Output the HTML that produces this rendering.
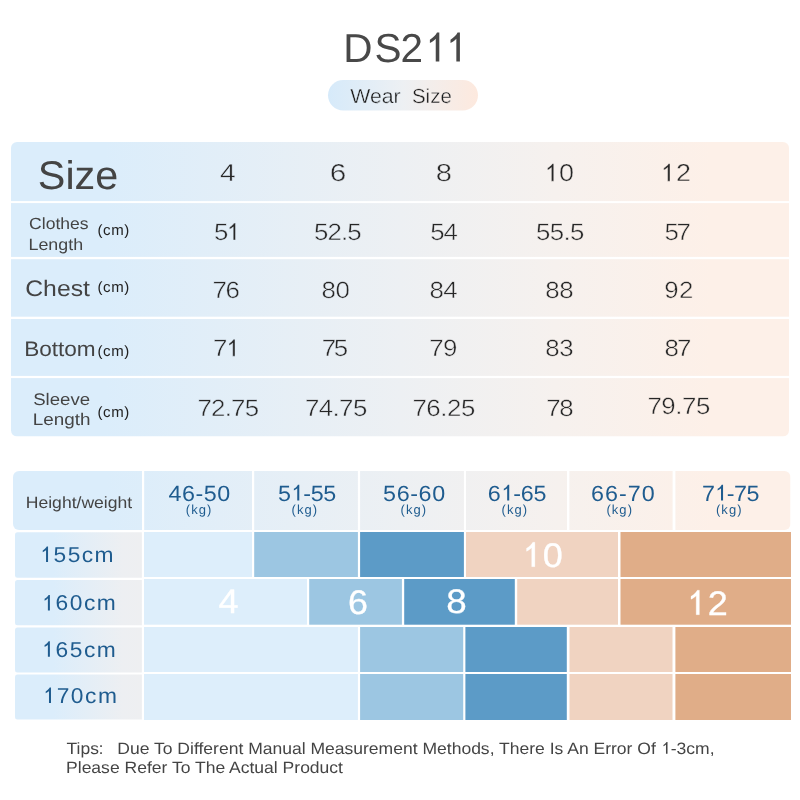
<!DOCTYPE html>
<html lang="en">
<head>
<meta charset="utf-8">
<title>DS211 Wear Size</title>
<style>
html,body{margin:0;padding:0;background:#fff;}
body{width:800px;height:800px;overflow:hidden;font-family:"Liberation Sans",sans-serif;}
svg{display:block;font-family:"Liberation Sans",sans-serif;text-rendering:geometricPrecision;}
#wrap{width:800px;height:800px;will-change:transform;opacity:0.999;}
svg text{white-space:pre;}
</style>
</head>
<body>
<div id="wrap">
<svg width="800" height="800" viewBox="0 0 800 800">
<defs>
<linearGradient id="gMain" x1="0" y1="0" x2="1" y2="0">
<stop offset="0" stop-color="#dbedfb"/><stop offset="0.12" stop-color="#dbedfb"/><stop offset="0.5" stop-color="#edf0f3"/><stop offset="0.7" stop-color="#f6f1ee"/><stop offset="0.9" stop-color="#fdf0e8"/><stop offset="1" stop-color="#fdf0e8"/>
</linearGradient>
<linearGradient id="gPill" x1="0" y1="0" x2="1" y2="0">
<stop offset="0" stop-color="#d6eafa"/><stop offset="0.5" stop-color="#edf0f3"/><stop offset="1" stop-color="#fde9de"/>
</linearGradient>
<linearGradient id="gLab" x1="0" y1="0" x2="1" y2="0">
<stop offset="0" stop-color="#dbedfb"/><stop offset="0.3" stop-color="#dbedfb"/><stop offset="0.85" stop-color="#edeff2"/><stop offset="1" stop-color="#eeeff1"/>
</linearGradient>
<clipPath id="cTop"><rect x="11" y="142" width="778" height="294.5" rx="6"/></clipPath>
<clipPath id="cHdr"><rect x="13" y="471" width="777.5" height="59" rx="6"/></clipPath>
</defs>
<text x="343.16" y="61.50" font-size="40.5" fill="#484848">D</text>
<text x="374.38" y="61.50" font-size="40.5" fill="#484848">S</text>
<text x="400.58" y="61.50" font-size="40.5" fill="#484848">2</text>
<path d="M439.30,61.50 L435.74,61.50 L435.74,38.82 Q434.68,40.04 432.97,41.27 Q431.26,42.50 429.90,43.11 L429.90,39.67 Q432.35,38.26 434.18,36.27 Q436.07,34.27 437.00,32.39 L439.30,32.39 Z" fill="#484848" />
<path d="M459.90,61.50 L456.34,61.50 L456.34,38.82 Q455.28,40.04 453.57,41.27 Q451.86,42.50 450.50,43.11 L450.50,39.67 Q452.95,38.26 454.78,36.27 Q456.67,34.27 457.60,32.39 L459.90,32.39 Z" fill="#484848" />
<rect x="328" y="80" width="150" height="30.5" rx="15.25" fill="url(#gPill)" />
<g transform="translate(350.19,102.50) scale(1.0451,1)"><text x="0.00" y="0.00" font-size="20.4" fill="#1c1c1c" stroke="#e4eef6" stroke-width="0.35">Wear</text></g>
<g transform="translate(411.98,102.50) scale(1.0028,1)"><text x="0.00" y="0.00" font-size="20.4" fill="#1c1c1c" stroke="#f3edeb" stroke-width="0.35">Size</text></g>
<g clip-path="url(#cTop)">
<rect x="11" y="142" width="778" height="294.5" fill="url(#gMain)" />
<rect x="11" y="201.1" width="778" height="2" fill="#fff" />
<rect x="11" y="256.9" width="778" height="2.3" fill="#fff" />
<rect x="11" y="316.7" width="778" height="2.3" fill="#fff" />
<rect x="11" y="375.9" width="778" height="2.2" fill="#fff" />
</g>
<g transform="translate(37.84,188.75) scale(1.0336,1)"><text x="0.00" y="0.00" font-size="40" fill="#444444">Size</text></g>
<g transform="translate(29.12,229.25) scale(1.0766,1)"><text x="0.00" y="0.00" font-size="16.3" fill="#444444">Clothes</text></g>
<g transform="translate(28.53,249.50) scale(1.0953,1)"><text x="0.00" y="0.00" font-size="16.3" fill="#444444">Length</text></g>
<g transform="translate(25.26,295.50) scale(1.0994,1)"><text x="0.00" y="0.00" font-size="22.5" fill="#444444">Chest</text></g>
<g transform="translate(24.14,356.20) scale(1.0754,1)"><text x="0.00" y="0.00" font-size="21" fill="#444444">Bottom</text></g>
<g transform="translate(33.16,404.60) scale(1.1103,1)"><text x="0.00" y="0.00" font-size="16.8" fill="#444444">Sleeve</text></g>
<g transform="translate(32.84,425.00) scale(1.1241,1)"><text x="0.00" y="0.00" font-size="16.8" fill="#444444">Length</text></g>
<text x="97.46" y="235.20" font-size="15" fill="#222" letter-spacing="0.59">(cm)</text>
<text x="97.46" y="292.20" font-size="15" fill="#222" letter-spacing="0.59">(cm)</text>
<text x="97.46" y="356.00" font-size="15" fill="#222" letter-spacing="0.59">(cm)</text>
<text x="97.46" y="416.60" font-size="15" fill="#222" letter-spacing="0.59">(cm)</text>
<g transform="translate(220.12,181.25) scale(1.1517,1)"><text x="0.00" y="0.00" font-size="24.5" fill="#262626" stroke="#e3eef8" stroke-width="0.45">4</text></g>
<g transform="translate(329.76,181.25) scale(1.2135,1)"><text x="0.00" y="0.00" font-size="24.5" fill="#262626" stroke="#e9eff5" stroke-width="0.45">6</text></g>
<g transform="translate(435.76,181.25) scale(1.1941,1)"><text x="0.00" y="0.00" font-size="24.5" fill="#262626" stroke="#f0f0f2" stroke-width="0.45">8</text></g>
<g transform="translate(543.71,181.25) scale(1.1000,1)"><path d="M9.13,0.00 L6.97,0.00 L6.97,-13.72 Q6.34,-12.98 5.30,-12.24 Q4.27,-11.50 3.44,-11.13 L3.44,-13.21 Q4.92,-14.06 6.03,-15.26 Q7.18,-16.47 7.74,-17.61 L9.13,-17.61 Z" fill="#262626" stroke="#f6f1ee" stroke-width="0.45"/><text x="13.95" y="0.00" font-size="24.5" fill="#262626" stroke="#f6f1ee" stroke-width="0.45" letter-spacing="0.32">0</text></g>
<g transform="translate(659.96,181.25) scale(1.1000,1)"><path d="M9.13,0.00 L6.97,0.00 L6.97,-13.72 Q6.34,-12.98 5.30,-12.24 Q4.27,-11.50 3.44,-11.13 L3.44,-13.21 Q4.92,-14.06 6.03,-15.26 Q7.18,-16.47 7.74,-17.61 L9.13,-17.61 Z" fill="#262626" stroke="#fbf0e9" stroke-width="0.45"/><text x="14.48" y="0.00" font-size="24.5" fill="#262626" stroke="#fbf0e9" stroke-width="0.45" letter-spacing="0.86">2</text></g>
<g transform="translate(213.97,240.00) scale(1.1000,1)"><text x="0.00" y="0.00" font-size="23.5" fill="#262626" stroke="#e2eef8" stroke-width="0.45" letter-spacing="-2.25">5</text><path d="M19.58,0.00 L17.51,0.00 L17.51,-13.16 Q16.90,-12.45 15.91,-11.74 Q14.91,-11.03 14.12,-10.67 L14.12,-12.67 Q15.54,-13.48 16.61,-14.64 Q17.71,-15.80 18.25,-16.89 L19.58,-16.89 Z" fill="#262626" stroke="#e2eef8" stroke-width="0.45"/></g>
<g transform="translate(313.97,240.00) scale(1.1000,1)"><text x="0.00" y="0.00" font-size="23.5" fill="#262626" stroke="#e9eff5" stroke-width="0.45" letter-spacing="-0.82">52.5</text></g>
<g transform="translate(430.22,240.00) scale(1.1000,1)"><text x="0.00" y="0.00" font-size="23.5" fill="#262626" stroke="#f0f0f2" stroke-width="0.45" letter-spacing="-1.09">54</text></g>
<g transform="translate(535.97,240.00) scale(1.1000,1)"><text x="0.00" y="0.00" font-size="23.5" fill="#262626" stroke="#f6f1ee" stroke-width="0.45" letter-spacing="-0.59">55.5</text></g>
<g transform="translate(664.47,240.00) scale(1.1000,1)"><text x="0.00" y="0.00" font-size="23.5" fill="#262626" stroke="#fbf0e9" stroke-width="0.45" letter-spacing="-2.15">57</text></g>
<g transform="translate(212.46,298.25) scale(1.1000,1)"><text x="0.00" y="0.00" font-size="23.5" fill="#262626" stroke="#e2eef8" stroke-width="0.45" letter-spacing="-1.18">76</text></g>
<g transform="translate(321.40,298.25) scale(1.1000,1)"><text x="0.00" y="0.00" font-size="23.5" fill="#262626" stroke="#e9eff5" stroke-width="0.45" letter-spacing="-0.34">80</text></g>
<g transform="translate(429.40,298.25) scale(1.1000,1)"><text x="0.00" y="0.00" font-size="23.5" fill="#262626" stroke="#f0f0f2" stroke-width="0.45" letter-spacing="-0.58">84</text></g>
<g transform="translate(545.15,298.25) scale(1.1000,1)"><text x="0.00" y="0.00" font-size="23.5" fill="#262626" stroke="#f6f1ee" stroke-width="0.45" letter-spacing="-0.22">88</text></g>
<g transform="translate(664.27,298.25) scale(1.1000,1)"><text x="0.00" y="0.00" font-size="23.5" fill="#262626" stroke="#fcf0e9" stroke-width="0.45" letter-spacing="0.30">92</text></g>
<g transform="translate(212.96,356.25) scale(1.1000,1)"><text x="0.00" y="0.00" font-size="23.5" fill="#262626" stroke="#e2eef8" stroke-width="0.45" letter-spacing="-1.79">7</text><path d="M20.04,0.00 L17.97,0.00 L17.97,-13.16 Q17.36,-12.45 16.37,-11.74 Q15.38,-11.03 14.59,-10.67 L14.59,-12.67 Q16.01,-13.48 17.07,-14.64 Q18.17,-15.80 18.71,-16.89 L20.04,-16.89 Z" fill="#262626" stroke="#e2eef8" stroke-width="0.45"/></g>
<g transform="translate(321.71,356.25) scale(1.1000,1)"><text x="0.00" y="0.00" font-size="23.5" fill="#262626" stroke="#e9eff5" stroke-width="0.45" letter-spacing="-2.15">75</text></g>
<g transform="translate(429.21,356.25) scale(1.1000,1)"><text x="0.00" y="0.00" font-size="23.5" fill="#262626" stroke="#f0f0f2" stroke-width="0.45" letter-spacing="-0.44">79</text></g>
<g transform="translate(545.15,356.25) scale(1.1000,1)"><text x="0.00" y="0.00" font-size="23.5" fill="#262626" stroke="#f6f1ee" stroke-width="0.45" letter-spacing="-0.22">83</text></g>
<g transform="translate(664.40,356.25) scale(1.1000,1)"><text x="0.00" y="0.00" font-size="23.5" fill="#262626" stroke="#fbf0e9" stroke-width="0.45" letter-spacing="-1.64">87</text></g>
<g transform="translate(197.46,416.25) scale(1.1000,1)"><text x="0.00" y="0.00" font-size="23.5" fill="#262626" stroke="#e3eef8" stroke-width="0.45" letter-spacing="-0.71">72.75</text></g>
<g transform="translate(304.96,416.25) scale(1.1000,1)"><text x="0.00" y="0.00" font-size="23.5" fill="#262626" stroke="#e9eff5" stroke-width="0.45" letter-spacing="-0.54">74.75</text></g>
<g transform="translate(412.46,416.25) scale(1.1000,1)"><text x="0.00" y="0.00" font-size="23.5" fill="#262626" stroke="#f0f0f2" stroke-width="0.45" letter-spacing="-0.42">76.25</text></g>
<g transform="translate(546.21,416.25) scale(1.1000,1)"><text x="0.00" y="0.00" font-size="23.5" fill="#262626" stroke="#f6f1ee" stroke-width="0.45" letter-spacing="-1.18">78</text></g>
<g transform="translate(647.46,414.00) scale(1.1000,1)"><text x="0.00" y="0.00" font-size="23.5" fill="#262626" stroke="#fcf0e9" stroke-width="0.45" letter-spacing="-0.42">79.75</text></g>
<g clip-path="url(#cHdr)">
<rect x="13" y="471" width="777.5" height="59" fill="url(#gMain)" />
<rect x="142" y="470" width="2.2" height="61" fill="#fff" />
<rect x="252" y="470" width="2.2" height="61" fill="#fff" />
<rect x="357.9" y="470" width="2.2" height="61" fill="#fff" />
<rect x="463.9" y="470" width="2.1" height="61" fill="#fff" />
<rect x="567" y="470" width="2.4" height="61" fill="#fff" />
<rect x="672.6" y="470" width="2.8" height="61" fill="#fff" />
</g>
<g transform="translate(25.75,507.70) scale(1.0790,1)"><text x="0.00" y="0.00" font-size="16.3" fill="#444444">Height/weight</text></g>
<g transform="translate(168.38,500.60) scale(1.0600,1)"><text x="0.00" y="0.00" font-size="22" fill="#1f5c8f" letter-spacing="0.53">46-50</text></g>
<text x="185.79" y="514.00" font-size="13" fill="#1f5c8f" letter-spacing="1.07">(kg)</text>
<g transform="translate(277.97,500.60) scale(1.0600,1)"><text x="0.00" y="0.00" font-size="22" fill="#1f5c8f" letter-spacing="-0.32">5</text><path d="M20.11,0.00 L18.18,0.00 L18.18,-12.32 Q17.60,-11.66 16.67,-10.99 Q15.74,-10.32 15.00,-9.99 L15.00,-11.86 Q16.33,-12.62 17.33,-13.71 Q18.36,-14.79 18.86,-15.81 L20.11,-15.81 Z" fill="#1f5c8f" /><text x="23.82" y="0.00" font-size="22" fill="#1f5c8f" letter-spacing="-0.32">-55</text></g>
<text x="291.49" y="514.00" font-size="13" fill="#1f5c8f" letter-spacing="1.07">(kg)</text>
<g transform="translate(383.07,500.60) scale(1.0600,1)"><text x="0.00" y="0.00" font-size="22" fill="#1f5c8f" letter-spacing="0.58">56-60</text></g>
<text x="400.49" y="514.00" font-size="13" fill="#1f5c8f" letter-spacing="1.07">(kg)</text>
<g transform="translate(487.83,500.60) scale(1.0600,1)"><text x="0.00" y="0.00" font-size="22" fill="#1f5c8f" letter-spacing="-0.24">6</text><path d="M20.19,0.00 L18.25,0.00 L18.25,-12.32 Q17.68,-11.66 16.75,-10.99 Q15.82,-10.32 15.08,-9.99 L15.08,-11.86 Q16.41,-12.62 17.41,-13.71 Q18.44,-14.79 18.94,-15.81 L20.19,-15.81 Z" fill="#1f5c8f" /><text x="23.98" y="0.00" font-size="22" fill="#1f5c8f" letter-spacing="-0.24">-65</text></g>
<text x="501.49" y="514.00" font-size="13" fill="#1f5c8f" letter-spacing="1.07">(kg)</text>
<g transform="translate(591.03,500.60) scale(1.0600,1)"><text x="0.00" y="0.00" font-size="22" fill="#1f5c8f" letter-spacing="0.97">66-70</text></g>
<text x="606.39" y="514.00" font-size="13" fill="#1f5c8f" letter-spacing="1.07">(kg)</text>
<g transform="translate(701.93,500.60) scale(1.0600,1)"><text x="0.00" y="0.00" font-size="22" fill="#1f5c8f" letter-spacing="-0.50">7</text><path d="M19.93,0.00 L17.99,0.00 L17.99,-12.32 Q17.42,-11.66 16.49,-10.99 Q15.56,-10.32 14.82,-9.99 L14.82,-11.86 Q16.15,-12.62 17.15,-13.71 Q18.18,-14.79 18.68,-15.81 L19.93,-15.81 Z" fill="#1f5c8f" /><text x="23.46" y="0.00" font-size="22" fill="#1f5c8f" letter-spacing="-0.50">-75</text></g>
<text x="715.94" y="514.00" font-size="13" fill="#1f5c8f" letter-spacing="1.07">(kg)</text>
<path d="M17.5,532.3 H141.9 V577.7 H17.5 Q15,577.7 15,575.2 V534.8 Q15,532.3 17.5,532.3 Z" fill="url(#gLab)"/>
<path d="M17.5,580 H141.9 V625.2 H17.5 Q15,625.2 15,622.7 V582.5 Q15,580 17.5,580 Z" fill="url(#gLab)"/>
<path d="M17.5,627.5 H141.9 V672.5 H17.5 Q15,672.5 15,670.0 V630.0 Q15,627.5 17.5,627.5 Z" fill="url(#gLab)"/>
<path d="M17.5,674.5 H141.9 V719.5 H17.5 Q15,719.5 15,717.0 V677.0 Q15,674.5 17.5,674.5 Z" fill="url(#gLab)"/>
<rect x="144" y="532" width="108" height="45" fill="#ddeefb" />
<rect x="254.2" y="532" width="103.7" height="45" fill="#9cc6e2" />
<rect x="360.1" y="532" width="103.8" height="45" fill="#5c9bc7" />
<rect x="466" y="532" width="152" height="45" fill="#f0d3c1" />
<rect x="620.5" y="532" width="170.5" height="45" fill="#e0ad88" />
<rect x="144" y="579" width="163" height="45.7" fill="#ddeefb" />
<rect x="309.2" y="579" width="92.7" height="45.7" fill="#9cc6e2" />
<rect x="404.2" y="579" width="110.6" height="45.7" fill="#5c9bc7" />
<rect x="517.2" y="579" width="100.8" height="45.7" fill="#f0d3c1" />
<rect x="620.5" y="579" width="170.5" height="45.7" fill="#e0ad88" />
<rect x="144" y="627" width="213.9" height="45" fill="#ddeefb" />
<rect x="360.1" y="627" width="103.1" height="45" fill="#9cc6e2" />
<rect x="465.4" y="627" width="101.4" height="45" fill="#5c9bc7" />
<rect x="569.5" y="627" width="103" height="45" fill="#f0d3c1" />
<rect x="675.4" y="627" width="115.6" height="45" fill="#e0ad88" />
<rect x="144" y="674" width="213.9" height="46" fill="#ddeefb" />
<rect x="360.1" y="674" width="103.1" height="46" fill="#9cc6e2" />
<rect x="465.4" y="674" width="101.4" height="46" fill="#5c9bc7" />
<rect x="569.5" y="674" width="103" height="46" fill="#f0d3c1" />
<rect x="675.4" y="674" width="115.6" height="46" fill="#e0ad88" />
<g transform="translate(39.55,562.00) scale(1.0600,1)"><path d="M8.01,0.00 L6.12,0.00 L6.12,-12.04 Q5.56,-11.39 4.65,-10.74 Q3.74,-10.09 3.02,-9.76 L3.02,-11.59 Q4.32,-12.34 5.29,-13.40 Q6.30,-14.46 6.79,-15.45 L8.01,-15.45 Z" fill="#1f5c8f" /><text x="13.28" y="0.00" font-size="21.5" fill="#1f5c8f" letter-spacing="1.33">55cm</text></g>
<g transform="translate(41.40,610.40) scale(1.0600,1)"><path d="M8.01,0.00 L6.12,0.00 L6.12,-12.04 Q5.56,-11.39 4.65,-10.74 Q3.74,-10.09 3.02,-9.76 L3.02,-11.59 Q4.32,-12.34 5.29,-13.40 Q6.30,-14.46 6.79,-15.45 L8.01,-15.45 Z" fill="#1f5c8f" /><text x="13.37" y="0.00" font-size="21.5" fill="#1f5c8f" letter-spacing="1.41">60cm</text></g>
<g transform="translate(41.40,656.70) scale(1.0600,1)"><path d="M8.01,0.00 L6.12,0.00 L6.12,-12.04 Q5.56,-11.39 4.65,-10.74 Q3.74,-10.09 3.02,-9.76 L3.02,-11.59 Q4.32,-12.34 5.29,-13.40 Q6.30,-14.46 6.79,-15.45 L8.01,-15.45 Z" fill="#1f5c8f" /><text x="13.37" y="0.00" font-size="21.5" fill="#1f5c8f" letter-spacing="1.41">65cm</text></g>
<g transform="translate(42.50,703.00) scale(1.0600,1)"><path d="M8.01,0.00 L6.12,0.00 L6.12,-12.04 Q5.56,-11.39 4.65,-10.74 Q3.74,-10.09 3.02,-9.76 L3.02,-11.59 Q4.32,-12.34 5.29,-13.40 Q6.30,-14.46 6.79,-15.45 L8.01,-15.45 Z" fill="#1f5c8f" /><text x="13.37" y="0.00" font-size="21.5" fill="#1f5c8f" letter-spacing="1.41">70cm</text></g>
<g transform="translate(218.44,613.30) scale(1.0629,1)"><text x="0.00" y="0.00" font-size="34" fill="#fff" stroke="#fff" stroke-width="0.3">4</text></g>
<g transform="translate(347.91,613.50) scale(1.0556,1)"><text x="0.00" y="0.00" font-size="34" fill="#fff" stroke="#fff" stroke-width="0.3">6</text></g>
<g transform="translate(446.34,613.30) scale(1.0826,1)"><text x="0.00" y="0.00" font-size="34" fill="#fff" stroke="#fff" stroke-width="0.3">8</text></g>
<g transform="translate(521.44,566.70) scale(1.0600,1)"><path d="M12.67,0.00 L9.68,0.00 L9.68,-19.04 Q8.79,-18.01 7.36,-16.98 Q5.92,-15.95 4.78,-15.44 L4.78,-18.33 Q6.83,-19.51 8.37,-21.18 Q9.96,-22.86 10.74,-24.44 L12.67,-24.44 Z" fill="#fff" stroke="#fff" stroke-width="0.3"/><text x="20.20" y="0.00" font-size="34" fill="#fff" stroke="#fff" stroke-width="0.3" letter-spacing="1.30">0</text></g>
<g transform="translate(685.94,614.70) scale(1.0600,1)"><path d="M12.67,0.00 L9.68,0.00 L9.68,-19.04 Q8.79,-18.01 7.36,-16.98 Q5.92,-15.95 4.78,-15.44 L4.78,-18.33 Q6.83,-19.51 8.37,-21.18 Q9.96,-22.86 10.74,-24.44 L12.67,-24.44 Z" fill="#fff" stroke="#fff" stroke-width="0.3"/><text x="20.63" y="0.00" font-size="34" fill="#fff" stroke="#fff" stroke-width="0.3" letter-spacing="1.72">2</text></g>
<g transform="translate(66.61,753.75) scale(1.0650,1)"><text x="0.00" y="0.00" font-size="16.4" fill="#444444">Tips</text></g>
<text x="98.82" y="753.75" font-size="16.4" fill="#444444">:</text>
<g transform="translate(117.30,753.75) scale(1.0689,1)"><text x="0.00" y="0.00" font-size="16.4" fill="#444444">Due To Different Manual Measurement Methods, There Is An Error Of </text><path d="M514.75,0.00 L513.31,0.00 L513.31,-9.18 Q512.88,-8.69 512.19,-8.19 Q511.50,-7.70 510.95,-7.45 L510.95,-8.84 Q511.94,-9.41 512.68,-10.22 Q513.45,-11.03 513.82,-11.79 L514.75,-11.79 Z" fill="#444444" /><text x="517.76" y="0.00" font-size="16.4" fill="#444444">-3cm,</text></g>
<g transform="translate(66.05,773.00) scale(1.0690,1)"><text x="0.00" y="0.00" font-size="16.4" fill="#444444">Please Refer To The Actual Product</text></g>
</svg>
</div>
</body>
</html>
